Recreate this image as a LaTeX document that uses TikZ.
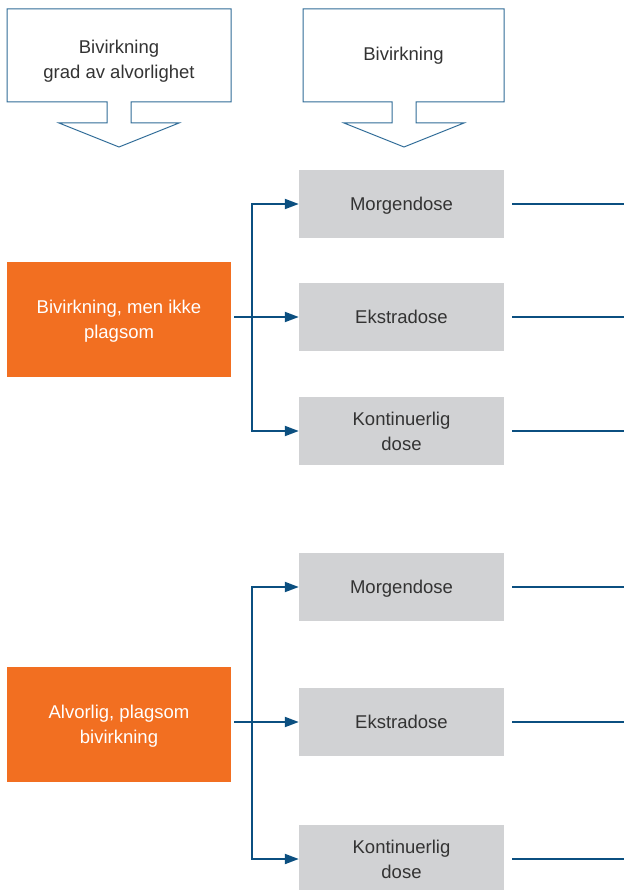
\documentclass[tikz,border=0pt]{standalone}
\usepackage{fontspec}
\setmainfont{Liberation Sans}
\usetikzlibrary{arrows.meta}
\definecolor{dblue}{HTML}{0B4F80}
\definecolor{lblue}{HTML}{2F6B97}
\definecolor{orng}{HTML}{F26F21}
\definecolor{lgray}{HTML}{D1D2D4}
\definecolor{txt}{HTML}{333333}

\begin{document}
\begin{tikzpicture}[x=1pt,y=-1pt,
  every node/.style={font=\fontsize{18.5}{25}\selectfont},
  dose/.style={fill=lgray,text=txt,minimum width=205pt,minimum height=68pt,align=center,inner sep=0pt,text depth=0pt},
  grad/.style={fill=orng,text=white,minimum width=224pt,minimum height=115pt,align=center,inner sep=0pt,text depth=0pt},
  lbl/.style={text=txt,align=center},
  link/.style={dblue,line width=2pt},
  tip/.style={link,-{Triangle[length=14pt,width=10pt]}},
  fork/.style={link,line join=miter,{Triangle[length=14pt,width=10pt]}-{Triangle[length=14pt,width=10pt]}}]
\useasboundingbox (0,0) rectangle (624,890);
\coordinate (trunk) at (252,0);
\coordinate (edge) at (624,0);
% header block arrows
\foreach \l/\r/\m in {7/231/119, 303/504/404}
  \draw[lblue,line width=1pt] (\l,9) -- (\r,9) -- (\r,102) -- (\m+12,102) -- (\m+12,123)
    -- (\m+60,123) -- (\m,147) -- (\m-60,123) -- (\m-12,123) -- (\m-12,102) -- (\l,102) -- cycle;
\node[lbl] (hdgrad) at (119,61) {Bivirkning\\grad av alvorlighet};
\node[lbl] (hdtype) at (403.5,56) {Bivirkning};
% severity
\node[grad] (g1) at (119,319.5) {Bivirkning, men ikke\\plagsom};
\node[grad] (g2) at (119,724.5) {Alvorlig, plagsom\\bivirkning};
% doses
\foreach \n/\y/\t in {m1/204/Morgendose, e1/317/Ekstradose, k1/431/{Kontinuerlig\\dose},
    m2/587/Morgendose, e2/722/Ekstradose, k2/859/{Kontinuerlig\\dose}}
  \node[dose] (\n) at (401.5,\y) {\t};
\foreach \i in {1,2} {
  \draw[fork] (m\i.west) -- (m\i.west -| trunk) -- (k\i.west -| trunk) -- (k\i.west);
  \draw[tip] ([xshift=3pt]g\i.east |- e\i.west) -- (e\i.west);
}
\foreach \n in {m1,e1,k1,m2,e2,k2}
  \draw[link] ([xshift=8pt]\n.east) -- (\n.east -| edge);
\end{tikzpicture}
\end{document}
